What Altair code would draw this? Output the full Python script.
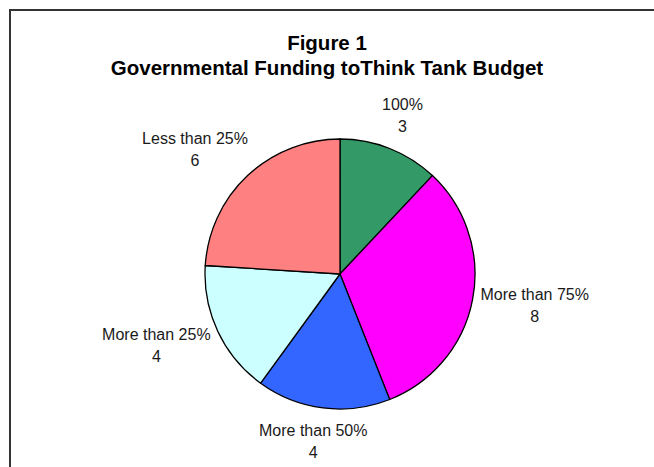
import math
import altair as alt
import pandas as pd

categories = ["100%", "More than 75%", "More than 50%", "More than 25%", "Less than 25%"]
counts = [3, 8, 4, 4, 6]
colors = ["#339966", "#FF00FF", "#3366FF", "#CCFFFF", "#FF8080"]
title_lines = ["Figure 1", "Governmental Funding toThink Tank Budget"]

W, H = 654, 467
CX, CY, R = 340, 274, 135
FONT = "Liberation Sans"
LABEL_SIZE = 16
LINE_H = 22

# rough Arial advance widths (em) to size label boxes
CW = {" ": .278, "%": .889, "M": .833, "L": .556, "e": .556, "s": .5, "t": .278,
      "h": .556, "a": .556, "n": .556, "o": .556, "r": .333}


def text_w(s):
    return sum(CW.get(ch, .556) for ch in s) * LABEL_SIZE


total = sum(counts)
rows = []
cum = 0
for i, (c, v) in enumerate(zip(categories, counts)):
    mid = (cum + v / 2) / total * 2 * math.pi
    cum += v
    s, k = math.sin(mid), -math.cos(mid)
    ax = CX + (R + 8) * s
    ay = CY + (R + 8) * k
    hw = text_w(c) / 2
    hh = 19
    lx = ax + hw * max(-1, min(1, 1.3 * s))
    ly = ay + hh * 1.4 * k
    rows.append({"idx": i, "cat": c, "n": v, "label": f"{c}\n{v}", "lx": lx, "ly": ly})
df = pd.DataFrame(rows)

base = alt.Chart(df)

pie = base.mark_arc(radius=R, stroke="black", strokeWidth=1.3).encode(
    theta=alt.Theta("n:Q", stack=True),
    order=alt.Order("idx:Q"),
    color=alt.Color("cat:N", scale=alt.Scale(domain=categories, range=colors), legend=None),
    x=alt.value(CX),
    y=alt.value(CY),
)

labels = base.mark_text(
    font=FONT, fontSize=LABEL_SIZE, color="#1a1a1a", lineBreak="\n",
    lineHeight=LINE_H, align="center", baseline="middle", dy=-LINE_H / 2,
).encode(
    text="label:N",
    x=alt.X("lx:Q", scale=None),
    y=alt.Y("ly:Q", scale=None),
)

tdf = pd.DataFrame({"t": ["\n".join(title_lines)]})
title = alt.Chart(tdf).mark_text(
    font=FONT, fontSize=20.5, fontWeight="bold", color="black", align="center",
    baseline="middle", lineBreak="\n", lineHeight=25,
).encode(text="t:N", x=alt.value(327), y=alt.value(44))

frame = alt.Chart(tdf).mark_rect(fill=None, fillOpacity=0, stroke="#333333", strokeWidth=2).encode(
    x=alt.value(10), x2=alt.value(W + 50), y=alt.value(10), y2=alt.value(H + 50)
)

chart = alt.layer(frame, pie, labels, title).properties(
    width=W, height=H, padding=0, autosize=alt.AutoSizeParams(type="none"),
).configure_view(stroke=None)

chart.save("out.html", embed_options={"renderer": "svg", "actions": False})
